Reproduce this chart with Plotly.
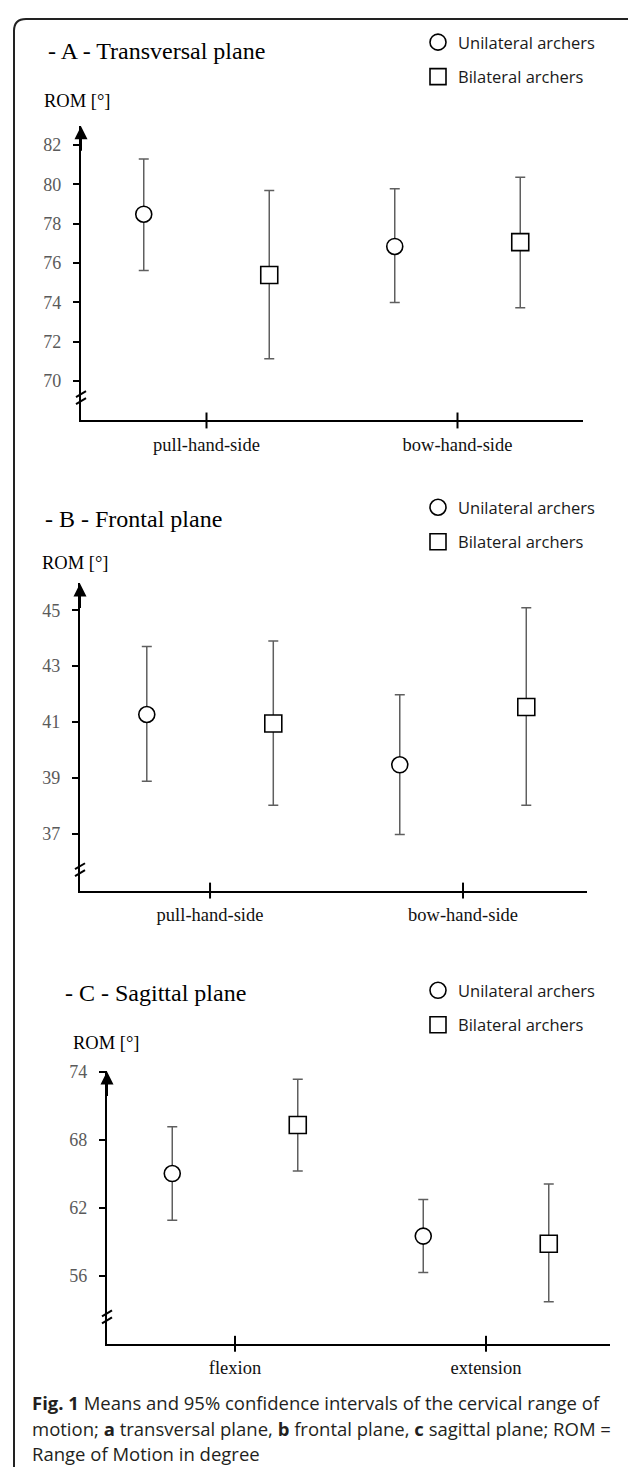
import plotly.graph_objects as go

W, H = 628, 1470

# ---------------- data ----------------
categories_A = ["pull-hand-side", "bow-hand-side"]
uni_A = [78.49, 76.85]
uni_A_lo = [75.63, 74.00]
uni_A_hi = [81.29, 79.78]
bi_A = [75.40, 77.07]
bi_A_lo = [71.14, 73.73]
bi_A_hi = [79.69, 80.37]
ticks_A = [70, 72, 74, 76, 78, 80, 82]

categories_B = ["pull-hand-side", "bow-hand-side"]
uni_B = [41.27, 39.47]
uni_B_lo = [38.88, 36.98]
uni_B_hi = [43.70, 41.98]
bi_B = [40.95, 41.54]
bi_B_lo = [38.02, 38.02]
bi_B_hi = [43.90, 45.09]
ticks_B = [37, 39, 41, 43, 45]

categories_C = ["flexion", "extension"]
uni_C = [65.02, 59.50]
uni_C_lo = [60.90, 56.30]
uni_C_hi = [69.15, 62.73]
bi_C = [69.30, 58.83]
bi_C_lo = [65.25, 53.70]
bi_C_hi = [73.35, 64.10]
ticks_C = [56, 62, 68, 74]

series_names = ["Unilateral archers", "Bilateral archers"]
titles = ["- A - Transversal plane", "- B - Frontal plane", "- C - Sagittal plane"]
y_label = "ROM [°]"
caption_lines = [
    "<b>Fig. 1</b> Means and 95% confidence intervals of the cervical range of",
    "motion; <b>a</b> transversal plane, <b>b</b> frontal plane, <b>c</b> sagittal plane; ROM =",
    "Range of Motion in degree",
]

# ---------------- layout geometry (pixels) ----------------
def px(x):
    return x / W

def py(y):
    return 1 - y / H

panels = [
    dict(cats=categories_A, uni=uni_A, ulo=uni_A_lo, uhi=uni_A_hi,
         bi=bi_A, blo=bi_A_lo, bhi=bi_A_hi, ticks=ticks_A,
         xpx=(81, 583), ypx=(118, 414), xr=[-0.5, 1.5], yr=[68.0, 82.96],
         title_pos=(46, 42), rom_pos=(42, 93), leg_top=16, brk=391),
    dict(cats=categories_B, uni=uni_B, ulo=uni_B_lo, uhi=uni_B_hi,
         bi=bi_B, blo=bi_B_lo, bhi=bi_B_hi, ticks=ticks_B,
         xpx=(80, 587), ypx=(578, 887), xr=[-0.514, 1.49], yr=[34.97, 45.96],
         title_pos=(43, 513), rom_pos=(40, 557), leg_top=484, brk=866),
    dict(cats=categories_C, uni=uni_C, ulo=uni_C_lo, uhi=uni_C_hi,
         bi=bi_C, blo=bi_C_lo, bhi=bi_C_hi, ticks=ticks_C,
         xpx=(107, 610), ypx=(1069, 1343), xr=[-0.51, 1.494], yr=[50.0, 74.03],
         title_pos=(63, 990), rom_pos=(71, 1040), leg_top=970, brk=1316),
]

SERIF = "Liberation Serif, Times New Roman, serif"
SANS = "Open Sans, Noto Sans, sans-serif"
ERR_COLOR = "#5f5f5f"

fig = go.Figure()
shapes = []
annotations = []
layout_axes = {}

for k, p in enumerate(panels):
    n = k + 1
    xa = "x" if n == 1 else f"x{n}"
    ya = "y" if n == 1 else f"y{n}"
    leg = "legend" if n == 1 else f"legend{n}"
    idx = list(range(len(p["cats"])))
    xu = [i - 0.25 for i in idx]
    xb = [i + 0.25 for i in idx]

    for name, xs, m, lo, hi, sym, size in [
        (series_names[0], xu, p["uni"], p["ulo"], p["uhi"], "circle", 16),
        (series_names[1], xb, p["bi"], p["blo"], p["bhi"], "square", 17),
    ]:
        fig.add_trace(go.Scatter(
            x=xs, y=m, mode="markers", name=name,
            xaxis=xa, yaxis=ya, legend=leg, legendgroup=f"{name}{n}",
            marker=dict(symbol=sym, size=size, color="white",
                        line=dict(color="black", width=1.6)),
            error_y=dict(type="data", symmetric=False,
                         array=[h - v for h, v in zip(hi, m)],
                         arrayminus=[v - l for v, l in zip(m, lo)],
                         color=ERR_COLOR, thickness=1.5, width=5),
            showlegend=True,
        ))

    x0, x1 = p["xpx"]
    yt, yb = p["ypx"]
    xkey = "xaxis" if n == 1 else f"xaxis{n}"
    ykey = "yaxis" if n == 1 else f"yaxis{n}"
    layout_axes[xkey] = dict(
        domain=[px(x0), px(x1)], range=p["xr"], anchor=ya,
        tickmode="array", tickvals=idx, ticktext=p["cats"],
        showline=True, linecolor="black", linewidth=2.2,
        ticks="", showgrid=False, zeroline=False, ticklabelstandoff=6,
        tickfont=dict(family=SERIF, size=18.5, color="#111111"),
    )
    layout_axes[ykey] = dict(
        domain=[py(yb), py(yt)], range=p["yr"], anchor=xa,
        tickmode="array", tickvals=p["ticks"],
        showline=True, linecolor="black", linewidth=2.2,
        ticks="outside", ticklen=6, tickwidth=2, tickcolor="black",
        showgrid=False, zeroline=False, ticklabelstandoff=8,
        tickfont=dict(family=SERIF, size=18, color="#5a5a5a"),
    )
    # category tick marks crossing the x axis
    for i in idx:
        shapes.append(dict(type="line", xref=xa, yref="paper",
                           x0=i, x1=i, y0=py(yb + 8), y1=py(yb - 8),
                           line=dict(color="black", width=2)))
    # axis break marks
    for dy in (-3.5, 3.5):
        by = p["brk"] + dy
        shapes.append(dict(type="line", xref="paper", yref="paper",
                           x0=px(x0 - 5), y0=py(by + 3), x1=px(x0 + 5), y1=py(by - 3),
                           line=dict(color="black", width=2)))
    # arrow head on y axis
    annotations.append(dict(xref=xa, yref=ya, x=p["xr"][0], y=p["yr"][1],
                            ax=0, ay=26, axref="pixel", ayref="pixel",
                            showarrow=True, arrowhead=2, arrowsize=1.3,
                            arrowwidth=2, arrowcolor="black", text=""))
    # panel title
    tx, ty = p["title_pos"]
    annotations.append(dict(xref="paper", yref="paper", x=px(tx), y=py(ty),
                            xanchor="left", yanchor="middle", showarrow=False,
                            text=titles[k], font=dict(family=SERIF, size=24, color="black")))
    rx, ry = p["rom_pos"]
    annotations.append(dict(xref="paper", yref="paper", x=px(rx), y=py(ry),
                            xanchor="left", yanchor="middle", showarrow=False,
                            text=y_label, font=dict(family=SERIF, size=18.5, color="black")))
    layout_axes[leg] = dict(
        x=px(418), xanchor="left", y=py(p["leg_top"]), yanchor="top",
        font=dict(family=SANS, size=16.5, color="#1a1a1a"),
        bgcolor="rgba(0,0,0,0)", tracegroupgap=10, traceorder="grouped",
        itemsizing="trace",
    )

# caption
for j, (line, yy) in enumerate(zip(caption_lines, [1402, 1428, 1453])):
    annotations.append(dict(xref="paper", yref="paper", x=px(30), y=py(yy),
                            xanchor="left", yanchor="middle", showarrow=False,
                            text=line, font=dict(family=SANS, size=18.5, color="#231f20")))

# outer frame (left and top edges with rounded corner)
frame = (f"M {px(14)} {py(1467)} L {px(14)} {py(22)} "
         f"Q {px(14)} {py(10)} {px(26)} {py(10)} L {px(628)} {py(10)}")
shapes.append(dict(type="path", xref="paper", yref="paper", path=frame,
                   line=dict(color="#222222", width=2)))

fig.update_layout(
    width=W, height=H, autosize=False,
    margin=dict(l=0, r=0, t=0, b=0),
    paper_bgcolor="white", plot_bgcolor="white",
    shapes=shapes, annotations=annotations,
    **layout_axes,
)

fig.write_html("out.html", config={"displayModeBar": False})
